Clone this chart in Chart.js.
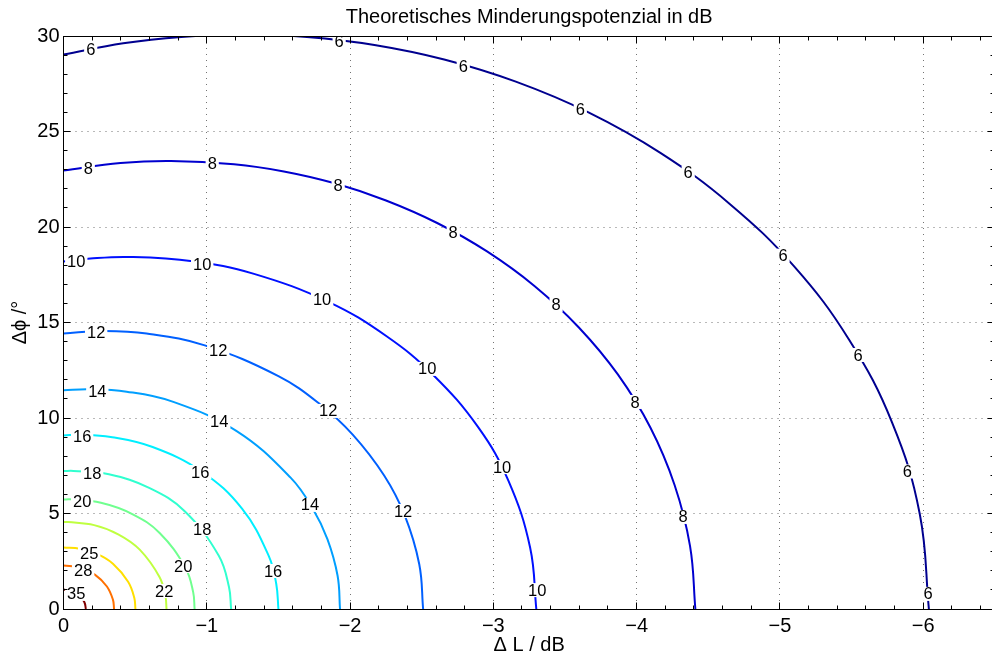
<!DOCTYPE html>
<html><head><meta charset="utf-8">
<style>html,body{margin:0;padding:0;overflow:hidden;background:#fff}</style>
<script src="https://cdn.jsdelivr.net/npm/chart.js@4.4.1/dist/chart.umd.min.js"></script>
</head><body>
<canvas id="c" width="1000" height="657" style="width:1000px;height:657px;display:block"></canvas>
<script>
// ---- data: contour lines [ΔL (dB), Δφ (°)] ----
const levels = [6, 8, 10, 12, 14, 16, 18, 20, 22, 25, 28, 35];
const contour6 = [[-6.04,0],[-5.976,4.99],[-5.784,9.75],[-5.482,14.11],[-5.098,17.95],[-4.65,21.21],[-4.166,23.88],[-3.664,26.0],[-3.157,27.61],[-2.657,28.77],[-2.17,29.53],[-1.699,29.95],[-1.249,30.08],[-0.822,29.95],[-0.417,29.62],[0,29.03]];
const contour8 = [[-4.41,0],[-4.373,3.29],[-4.265,6.49],[-4.096,9.5],[-3.869,12.28],[-3.597,14.74],[-3.289,16.9],[-2.956,18.72],[-2.608,20.21],[-2.251,21.39],[-1.893,22.29],[-1.538,22.91],[-1.19,23.29],[-0.75,23.46],[-0.398,23.35],[0,22.96]];
const contour10 = [[-3.3,0],[-3.257,3.21],[-3.105,6.72],[-2.894,9.52],[-2.577,12.28],[-2.255,14.28],[-1.852,16.07],[-1.324,17.56],[-0.9,18.21],[-0.458,18.43],[-0.188,18.35],[0,18.19]];
const contour12 = [[-2.51,0],[-2.483,2.34],[-2.381,4.91],[-2.238,6.99],[-2.02,9.12],[-1.792,10.71],[-1.5,12.19],[-0.986,13.8],[-0.58,14.42],[-0.283,14.55],[0,14.43]];
const contour14 = [[-1.93,0],[-1.913,1.74],[-1.842,3.66],[-1.741,5.24],[-1.585,6.88],[-1.206,9.33],[-0.756,10.87],[-0.441,11.38],[-0.176,11.51],[0,11.45]];
const contour16 = [[-1.5,0],[-1.485,1.31],[-1.433,2.77],[-1.246,5.25],[-0.964,7.2],[-0.622,8.48],[-0.329,9.01],[-0.11,9.12],[0,9.09]];
const contour18 = [[-1.17,0],[-1.155,1.15],[-1.083,2.8],[-0.846,5.12],[-0.598,6.34],[-0.317,7.05],[-0.069,7.23],[0,7.22]];
const contour20 = [[-0.915,0],[-0.905,0.885],[-0.851,2.16],[-0.671,3.98],[-0.48,4.97],[-0.261,5.56],[-0.044,5.74],[0,5.73]];
const contour22 = [[-0.719,0],[-0.711,0.687],[-0.67,1.68],[-0.532,3.11],[-0.385,3.9],[-0.214,4.39],[-0.033,4.55],[0,4.55]];
const contour25 = [[-0.502,0],[-0.494,0.59],[-0.451,1.43],[-0.345,2.37],[-0.237,2.87],[-0.114,3.15],[0,3.22]];
const contour28 = [[-0.353,0],[-0.345,0.49],[-0.303,1.18],[-0.221,1.79],[-0.113,2.17],[0,2.28]];
const contour35 = [[-0.156,0],[-0.146,0.355],[-0.109,0.73],[-0.052,0.96],[0,1.02]];
const contours = [contour6, contour8, contour10, contour12, contour14, contour16, contour18, contour20, contour22, contour25, contour28, contour35];

// contour labels (level, ΔL, Δφ)
const labelLevels = [6,6,6,6,6,6,6,6,6, 8,8,8,8,8,8,8, 10,10,10,10,10,10, 12,12,12,12, 14,14,14, 16,16,16, 18,18, 20,20, 22, 25, 28, 35];
const labelX = [-0.19,-1.924,-2.79,-3.607,-4.36,-5.022,-5.546,-5.89,-6.034, -0.173,-1.038,-1.917,-2.72,-3.438,-3.99,-4.324, -0.089,-0.968,-1.805,-2.538,-3.061,-3.306, -0.228,-1.08,-1.847,-2.37, -0.236,-1.087,-1.72, -0.13,-0.954,-1.463, -0.2,-0.968, -0.13,-0.835, -0.703, -0.179, -0.137, -0.089];
const labelY = [29.27,29.69,28.43,26.13,22.83,18.5,13.3,7.2,0.79, 23.09,23.35,22.2,19.74,15.92,10.84,4.82, 18.17,18.06,16.23,12.57,7.43,0.99, 14.5,13.56,10.37,5.13, 11.41,9.84,5.45, 9.01,7.17,1.99, 7.12,4.19, 5.65,2.25, 0.94, 2.93, 2.04, 0.79];

// axes
const xTickValues = [0, -1, -2, -3, -4, -5, -6];
const yTickValues = [0, 5, 10, 15, 20, 25, 30];
const titleText = 'Theoretisches Minderungspotenzial in dB';
const xTitle = 'Δ L / dB';
const yTitle = 'Δϕ /°';

// ---- styles ----
const levelColors = ['rgb(0,0,143)','rgb(0,0,207)','rgb(0,16,255)','rgb(0,96,255)','rgb(0,159,255)','rgb(0,239,255)','rgb(48,255,207)','rgb(112,255,143)','rgb(191,255,64)','rgb(255,223,0)','rgb(255,112,0)','rgb(128,0,0)'];
const FONT = '"Liberation Sans", Arial, Helvetica, sans-serif';

const matlabAxes = {
  id: 'matlabAxes',
  beforeDatasetsDraw(chart) {
    const {ctx, chartArea: a, scales: {x, y}} = chart;
    ctx.save();
    ctx.strokeStyle = 'rgba(0,0,0,0.55)';
    ctx.lineWidth = 1;
    ctx.setLineDash([1, 5]);
    xTickValues.forEach(v => {
      const p = Math.floor(x.getPixelForValue(v)) + 0.5;
      if (p < a.left + 2 || p > a.right - 2) return;
      ctx.beginPath(); ctx.moveTo(p, a.top); ctx.lineTo(p, a.bottom); ctx.stroke();
    });
    yTickValues.forEach(v => {
      const p = Math.floor(y.getPixelForValue(v)) + 0.5;
      if (p < a.top + 2 || p > a.bottom - 2) return;
      ctx.beginPath(); ctx.moveTo(a.left, p); ctx.lineTo(a.right, p); ctx.stroke();
    });
    ctx.restore();
  },
  afterDatasetsDraw(chart) {
    const {ctx, chartArea: a, scales: {x, y}} = chart;
    ctx.save();
    // contour labels
    ctx.beginPath(); ctx.rect(a.left, a.top, a.right - a.left, a.bottom - a.top); ctx.clip();
    ctx.font = '16.5px ' + FONT;
    ctx.textAlign = 'center';
    ctx.textBaseline = 'middle';
    labelLevels.forEach((lv, i) => {
      const px = x.getPixelForValue(labelX[i]);
      const py = y.getPixelForValue(labelY[i]);
      const t = String(lv);
      const w = ctx.measureText(t).width;
      ctx.fillStyle = '#fff';
      ctx.fillRect(px - w / 2 - 2, py - 7, w + 4, 14);
      ctx.fillStyle = '#000';
      ctx.fillText(t, px, py + 1);
    });
    ctx.restore();
    ctx.save();
    // box
    ctx.strokeStyle = '#000'; ctx.lineWidth = 1; ctx.setLineDash([]);
    const L = Math.floor(a.left) + 0.5, R = Math.floor(a.right) + 0.5, T = Math.floor(a.top) + 0.5, B = Math.floor(a.bottom) + 0.5;
    ctx.strokeRect(L, T, R - L, B - T);
    // ticks (inward), major and minor
    const tick = (px, len, horiz) => {
      ctx.beginPath();
      if (horiz) { ctx.moveTo(px, B); ctx.lineTo(px, B - len); ctx.moveTo(px, T); ctx.lineTo(px, T + len); }
      else { ctx.moveTo(L, px); ctx.lineTo(L + len, px); ctx.moveTo(R, px); ctx.lineTo(R - len, px); }
      ctx.stroke();
    };
    for (let k = 0; k <= 32; k++) {
      const p = Math.floor(x.getPixelForValue(-k * 0.2)) + 0.5;
      tick(p, k % 5 === 0 ? 7 : 4, true);
    }
    for (let k = 0; k <= 30; k++) {
      const p = Math.floor(y.getPixelForValue(k)) + 0.5;
      tick(p, k % 5 === 0 ? 7 : 4, false);
    }
    // title
    ctx.fillStyle = '#000';
    ctx.font = '20px ' + FONT;
    ctx.textAlign = 'center';
    ctx.textBaseline = 'alphabetic';
    ctx.fillText(titleText, (a.left + a.right) / 2, 23);
    ctx.restore();
  }
};

new Chart(document.getElementById('c'), {
  type: 'scatter',
  data: {
    datasets: contours.map((pts, i) => ({
      label: String(levels[i]),
      data: pts.map(p => ({x: p[0], y: p[1]})),
      showLine: true,
      borderColor: levelColors[i],
      backgroundColor: levelColors[i],
      borderWidth: 2,
      pointRadius: 0,
      tension: 0.4,
      fill: false
    }))
  },
  options: {
    responsive: false,
    animation: false,
    devicePixelRatio: 1,
    layout: {padding: {left: 0, right: 5.2, top: 36, bottom: 0}},
    plugins: {legend: {display: false}, tooltip: {enabled: false}, title: {display: false}},
    scales: {
      x: {
        type: 'linear', position: 'bottom', min: -6.5, max: 0, reverse: true,
        grid: {display: false, drawTicks: false}, border: {display: false},
        afterBuildTicks: s => { s.ticks = xTickValues.map(v => ({value: v})); },
        afterFit: s => { s.height = 48; },
        ticks: {padding: 5.5, color: '#000', font: {family: FONT, size: 20}, maxRotation: 0, autoSkip: false,
          callback: v => (v < 0 ? '\u2212' + Math.abs(v) : String(v))},
        title: {display: true, text: xTitle, color: '#000', font: {family: FONT, size: 20}, padding: {top: 0, bottom: 0}}
      },
      y: {
        type: 'linear', position: 'left', min: 0, max: 30,
        grid: {display: false, drawTicks: false}, border: {display: false},
        afterBuildTicks: s => { s.ticks = yTickValues.map(v => ({value: v})); },
        afterFit: s => { s.width = 63.5; },
        ticks: {padding: 4, color: '#000', font: {family: FONT, size: 20}, autoSkip: false},
        title: {display: true, text: yTitle, color: '#000', font: {family: FONT, size: 20}, padding: {top: 8, bottom: 0}}
      }
    }
  },
  plugins: [matlabAxes]
});
</script>
</body></html>
